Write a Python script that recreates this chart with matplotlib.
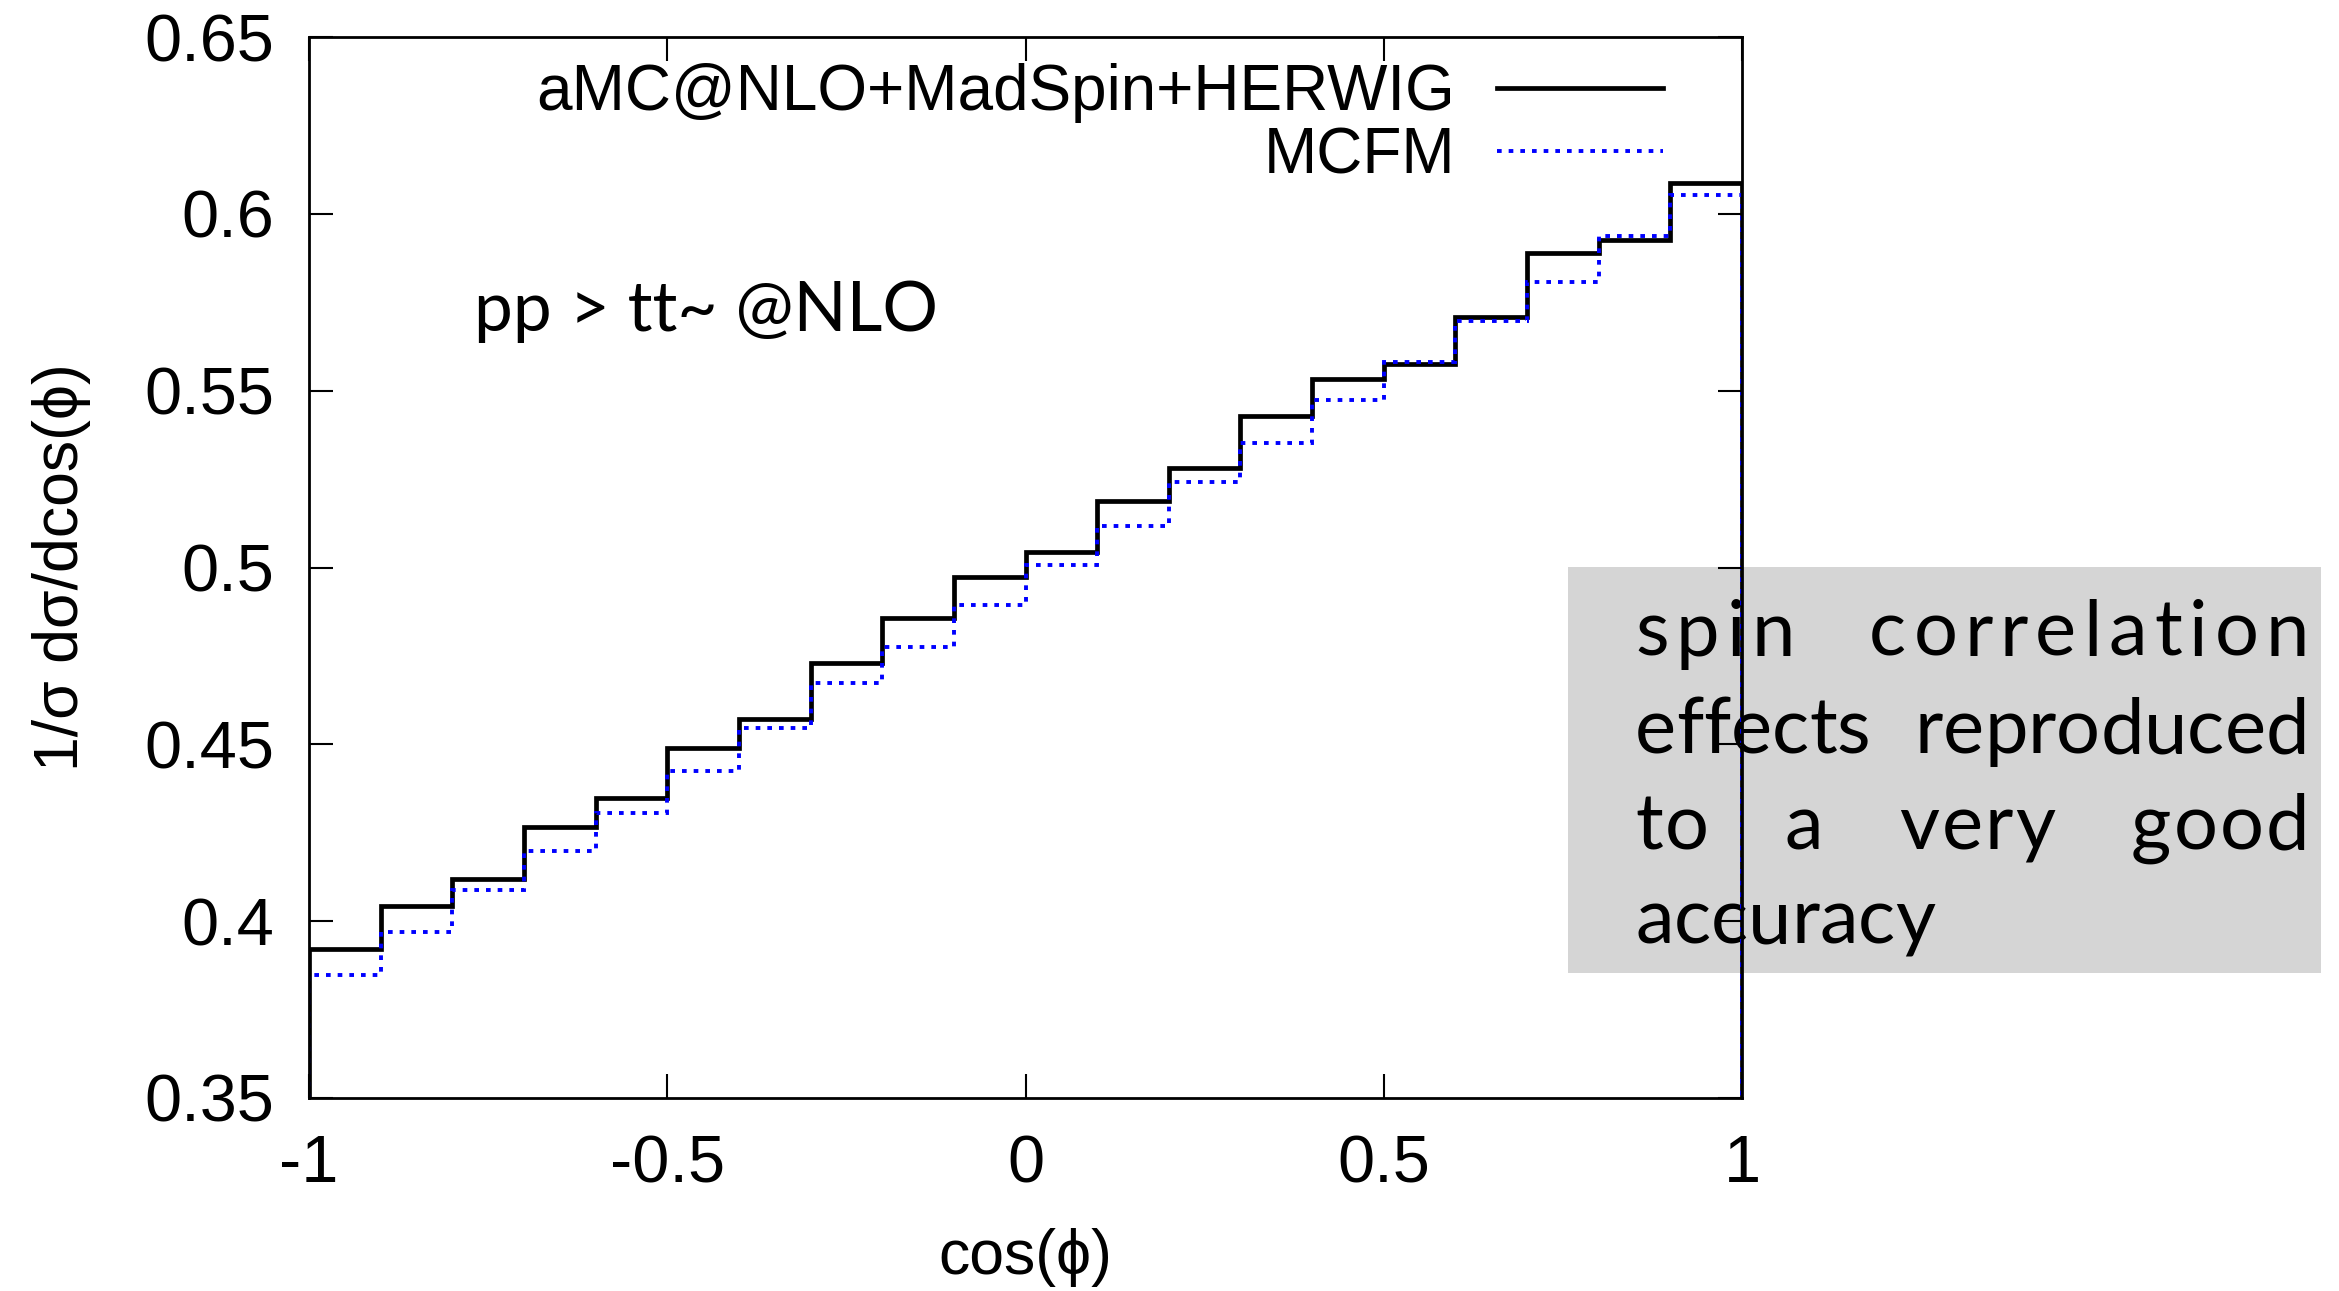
import matplotlib
matplotlib.use("Agg")
import matplotlib.pyplot as plt
import matplotlib.patches as mpatches
from matplotlib.lines import Line2D
import numpy as np

# bin edges in cos(phi) and the two normalised distributions
edges = np.linspace(-1, 1, 21)
amcnlo = [0.392, 0.4044, 0.4119, 0.4266, 0.4349, 0.4491, 0.4572, 0.4730, 0.4856, 0.4972,
          0.5044, 0.5188, 0.5282, 0.5429, 0.5533, 0.5575, 0.5709, 0.5888, 0.5926, 0.6086]
mcfm = [0.3849, 0.3968, 0.4087, 0.4197, 0.4307, 0.4424, 0.4546, 0.4674, 0.4774, 0.4895,
        0.5008, 0.5118, 0.5241, 0.5353, 0.5475, 0.5582, 0.5697, 0.5807, 0.5938, 0.6052]
labels = ["aMC@NLO+MadSpin+HERWIG", "MCFM"]
note_lines = ["spin correlation", "effects reproduced", "to a very good", "accuracy"]
note_tracking = [7, 0, 2, 0]   # extra px between letters, per line

W, H = 2339, 1291
plt.rcParams['font.family'] = ['Liberation Sans', 'DejaVu Sans']
fig = plt.figure(figsize=(W / 100, H / 100), dpi=100)
ax = fig.add_axes([309 / W, 1 - 1098 / H, (1742 - 309) / W, (1098 - 37) / H])
ax.set_facecolor('none')
ax.set_zorder(2)

dots = (0, (1.2, 1.8))
ax.stairs(amcnlo, edges, baseline=0.35, color='black', lw=3.4)
ax.stairs(mcfm, edges, baseline=0.35, color='#0000ff', lw=2.8, linestyle=dots)

ax.set_xlim(-1, 1)
ax.set_ylim(0.35, 0.65)
ax.set_xticks([-1, -0.5, 0, 0.5, 1])
ax.set_xticklabels(['-1', '-0.5', '0', '0.5', '1'])
ax.set_yticks(np.arange(0.35, 0.651, 0.05))
ax.set_yticklabels(['0.35', '0.4', '0.45', '0.5', '0.55', '0.6', '0.65'])
ax.tick_params(direction='in', length=17, width=1.5, labelsize=48,
               top=True, right=True)
ax.tick_params(axis='x', pad=26)
ax.tick_params(axis='y', pad=25)
for s in ax.spines.values():
    s.set_linewidth(2)
ax.set_xlabel('cos(ϕ)', fontsize=45, labelpad=23)
ax.set_ylabel('1/σ dσ/dcos(ϕ)', fontsize=45, labelpad=38)

handles = [Line2D([], [], color='black', lw=3.4),
           Line2D([], [], color='#0000ff', lw=2.8, linestyle=dots)]
ax.legend(handles, labels, loc='upper right', frameon=False, fontsize=46,
          markerfirst=False, handlelength=2.6, handletextpad=0.65,
          labelspacing=0.05, borderpad=0, borderaxespad=0,
          bbox_to_anchor=(1663 / W, 1 - 63 / H), bbox_transform=fig.transFigure)

ax.text(474, H - 331, 'pp > tt~ @NLO', transform=None, fontsize=50,
        family=['Lato', 'DejaVu Sans'], va='baseline', ha='left')

# grey note box, drawn under the axes so the plot lines cross it
box = mpatches.Rectangle((1568 / W, 1 - 973 / H), (2321 - 1568) / W, (973 - 567) / H,
                         transform=fig.transFigure, facecolor='#d5d5d5',
                         edgecolor='none', zorder=0)
fig.patches.append(box)

fig.canvas.draw()
renderer = fig.canvas.get_renderer()
left, right = 1635, 2309
baselines = [656, 753, 849, 943]
for i, (line, yb) in enumerate(zip(note_lines, baselines)):
    words = []
    for w in line.split():
        chars = [fig.text(0, 1 - yb / H, c, fontsize=56, family=['Lato', 'DejaVu Sans'],
                          va='baseline', ha='left', zorder=1) for c in w]
        cw = [t.get_window_extent(renderer).width for t in chars]
        words.append((chars, cw, sum(cw) + note_tracking[i] * (len(w) - 1)))
    total = sum(wd for _, _, wd in words)
    if i < len(note_lines) - 1 and len(words) > 1:
        gap = (right - left - total) / (len(words) - 1)
    else:
        gap = 0
    x = left
    for chars, cw, wd in words:
        cx = x
        for t, c in zip(chars, cw):
            t.set_x(cx / W)
            cx += c + note_tracking[i]
        x += wd + gap

fig.savefig('out.png', dpi=100)
